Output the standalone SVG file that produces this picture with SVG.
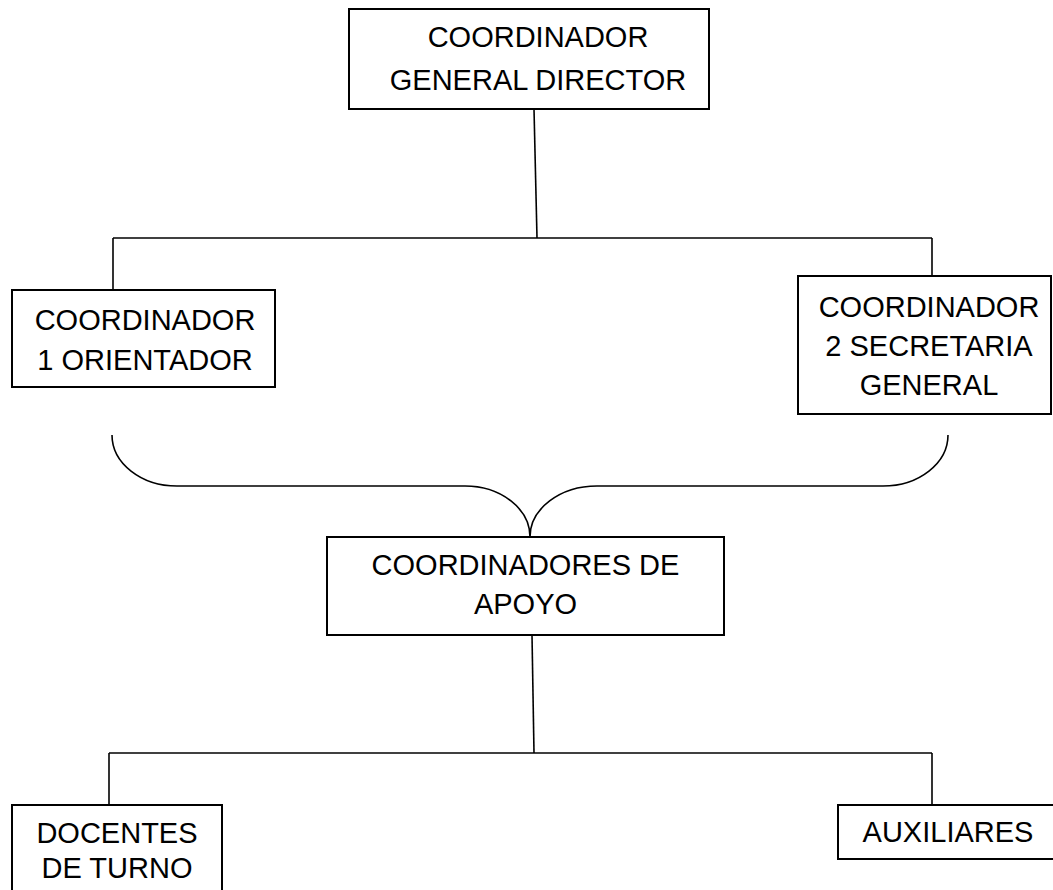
<svg xmlns="http://www.w3.org/2000/svg" width="1053" height="890" viewBox="0 0 1053 890">
<style>
.box{fill:#fff;stroke:#000;stroke-width:2}
.ln{fill:none;stroke:#000;stroke-width:1.6}
text{font-family:"Liberation Sans",Arial,sans-serif;font-size:29px;fill:#000;text-anchor:middle}
</style>
<rect width="1053" height="890" fill="#fff"/>
<g id="connectors">
<path class="ln" d="M534,109 L537,238"/>
<path class="ln" d="M113,238 H932"/>
<path class="ln" d="M113,238 V290"/>
<path class="ln" d="M932,238 V276"/>
<path class="ln" d="M112,435 A65,51 0 0 0 177,486 H465 A65,51 0 0 1 530,537 A67,51 0 0 1 597,486 H883 A65,51 0 0 0 948,435"/>
<path class="ln" d="M532,635 L534,753"/>
<path class="ln" d="M109,753 H932"/>
<path class="ln" d="M109,753 V805"/>
<path class="ln" d="M932,753 V805"/>
</g>
<g id="n-director">
<rect class="box" x="349" y="9" width="360" height="100"/>
<text x="538" y="47">COORDINADOR</text>
<text x="538" y="90">GENERAL DIRECTOR</text>
</g>
<g id="n-coord1">
<rect class="box" x="12" y="290" width="263" height="97"/>
<text x="145" y="330">COORDINADOR</text>
<text x="145" y="370">1 ORIENTADOR</text>
</g>
<g id="n-coord2">
<rect class="box" x="798" y="276" width="253" height="138"/>
<text x="929" y="317">COORDINADOR</text>
<text x="929" y="356">2 SECRETARIA</text>
<text x="929" y="395">GENERAL</text>
</g>
<g id="n-apoyo">
<rect class="box" x="327" y="537" width="397" height="98"/>
<text x="525.5" y="575">COORDINADORES DE</text>
<text x="525.5" y="614">APOYO</text>
</g>
<g id="n-docentes">
<rect class="box" x="12" y="805" width="210" height="95"/>
<text x="117" y="843">DOCENTES</text>
<text x="117" y="878">DE TURNO</text>
</g>
<g id="n-auxiliares">
<rect class="box" x="838" y="805" width="220" height="54"/>
<text x="948" y="842">AUXILIARES</text>
</g>
</svg>
